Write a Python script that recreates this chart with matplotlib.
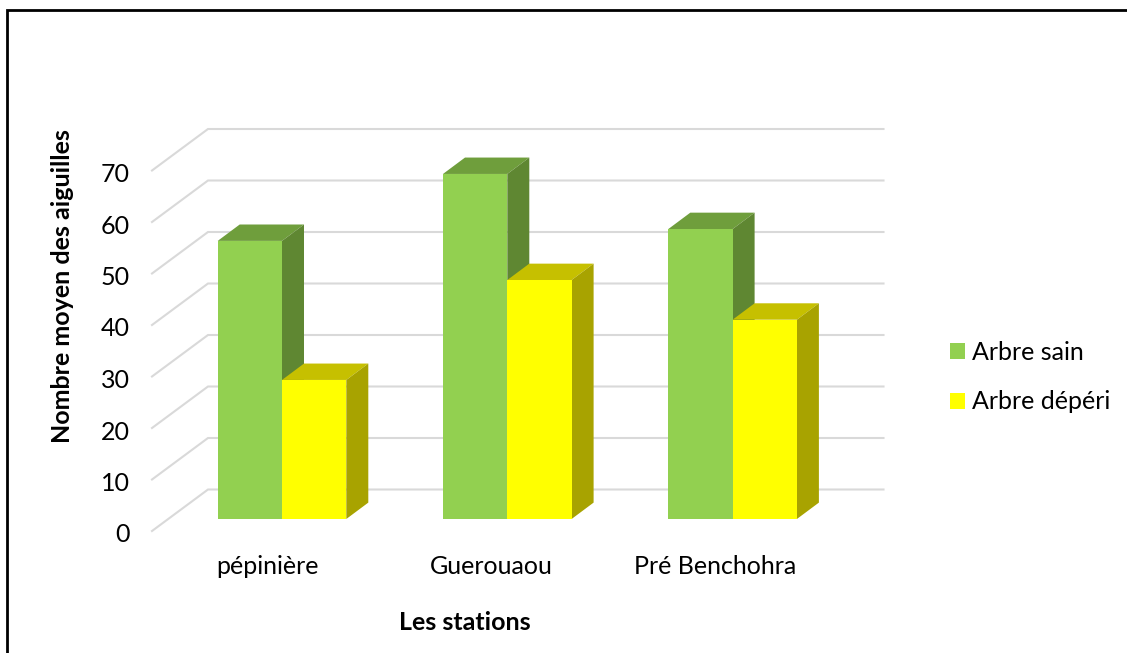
import matplotlib
matplotlib.use("Agg")
import matplotlib.pyplot as plt
from matplotlib.lines import Line2D
from matplotlib.patches import Patch, Polygon

stations = ["pépinière", "Guerouaou", "Pré Benchohra"]
arbre_sain = [54, 67, 56.3]
arbre_deperi = [27, 46.4, 38.7]
value_ticks = [0, 10, 20, 30, 40, 50, 60, 70]

W, H = 1127, 653
plt.rcParams["font.family"] = ["Lato", "DejaVu Sans"]

fig = plt.figure(figsize=(W / 100, H / 100), dpi=100, facecolor="white")


def fx(px):
    return px / W


def fy(py):
    return 1 - py / H


# The axes rectangle is the back wall of the 3D box; y is in data units.
wall_l, wall_r, wall_t, wall_b = 208, 883.5, 129, 489.5
ax = fig.add_axes([fx(wall_l), fy(wall_b), (wall_r - wall_l) / W, (wall_b - wall_t) / H])
unit_x = 225.3
ax.set_xlim((wall_l - 282) / unit_x, (wall_r - 282) / unit_x)
ax.set_ylim(0, 70)
ax.axis("off")
unit_y = (wall_b - wall_t) / 70

# Depth offsets, expressed in data units
floor_dx, floor_dy = 56 / unit_x, 41.5 / unit_y
bar_dx, bar_dy = 22 / unit_x, 16.4 / unit_y
front_dx, front_dy = 39.8 / unit_x, 29.5 / unit_y
bar_w = 64.3 / unit_x

GRID = "#D9D9D9"
for v in value_ticks:
    ax.plot([-floor_dx + ax.get_xlim()[0], ax.get_xlim()[0], ax.get_xlim()[1]],
            [v - floor_dy, v, v], color=GRID, lw=1.5, clip_on=False,
            solid_joinstyle="miter", zorder=1)
    ax.text(ax.get_xlim()[0] - floor_dx - 22 / unit_x, v - floor_dy - 2 / unit_y, str(v),
            ha="right", va="center_baseline", fontsize=18, color="black", clip_on=False)


def draw_bar(x_left, value, front, top, side, z):
    x_right = x_left + bar_w
    y_base = -front_dy
    y_top = value - front_dy
    ax.add_patch(Polygon([(x_left, y_top), (x_right, y_top),
                          (x_right + bar_dx, y_top + bar_dy), (x_left + bar_dx, y_top + bar_dy)],
                         closed=True, fc=top, ec="none", clip_on=False, zorder=z))
    ax.add_patch(Polygon([(x_right, y_base), (x_right + bar_dx, y_base + bar_dy),
                          (x_right + bar_dx, y_top + bar_dy), (x_right, y_top)],
                         closed=True, fc=side, ec="none", clip_on=False, zorder=z))
    ax.add_patch(Polygon([(x_left, y_base), (x_right, y_base), (x_right, y_top), (x_left, y_top)],
                         closed=True, fc=front, ec="none", clip_on=False, zorder=z + 0.1))


for i, (healthy, declining) in enumerate(zip(arbre_sain, arbre_deperi)):
    draw_bar(i - bar_w, healthy, "#92D050", "#6F9E3C", "#5F8732", 2 + i)
    draw_bar(i, declining, "#FFFF00", "#C6C000", "#A8A300", 2.5 + i)

for i, name in enumerate(stations):
    ax.text(i - 15 / unit_x - i * 1 / unit_x, -floor_dy - 36 / unit_y, name, ha="center", va="center",
            fontsize=18, color="black", clip_on=False)

fig.text(fx(465), fy(623), "Les stations", ha="center", va="center",
         fontsize=18, fontweight="bold", color="black")
fig.text(fx(63), fy(286), "Nombre moyen des aiguilles", rotation=90, ha="center", va="center",
         fontsize=18, fontweight="bold", color="black")

handles = [Patch(fc="#92D050", ec="none", label="Arbre sain"),
           Patch(fc="#FFFF00", ec="none", label="Arbre dépéri")]
fig.legend(handles=handles, loc="center left", bbox_to_anchor=(fx(942), fy(377)),
           frameon=False, fontsize=18, handlelength=0.6, handleheight=0.6,
           handletextpad=0.32, labelspacing=1.07, borderpad=0, borderaxespad=0.3)

# Outer frame around the chart, open where it runs off the page
frame_kw = dict(color="black", lw=2.0, transform=fig.transFigure, solid_capstyle="butt")
fig.add_artist(Line2D([fx(7.3), fx(7.3), 1], [0, fy(10), fy(10)], solid_joinstyle="miter", **frame_kw))

fig.savefig("out.png", dpi=100)
